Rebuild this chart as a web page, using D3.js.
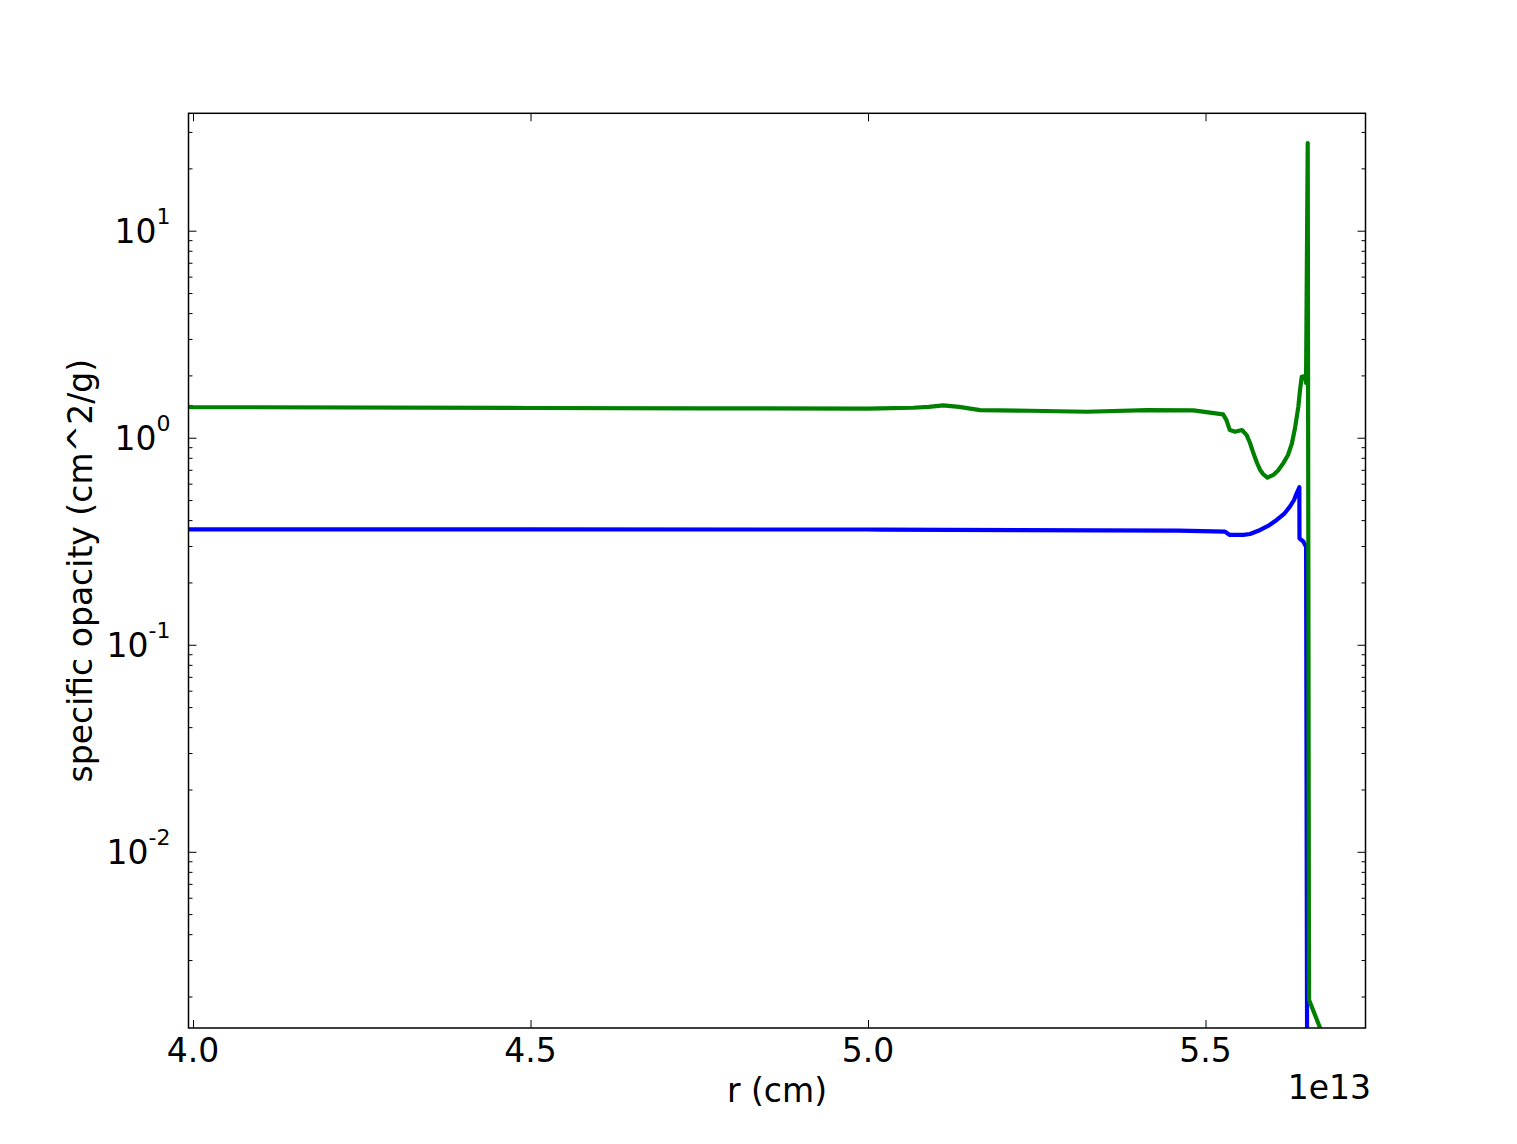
<!DOCTYPE html>
<html>
<head>
<meta charset="utf-8">
<script src="https://cdn.jsdelivr.net/npm/d3@7"></script>
<style>
	body { margin: 0; background: #fff; }
	text { font-family: "DejaVu Sans", sans-serif; fill: #000; }
</style>
</head>
<body>
<div class="chartDiv"></div>
<script>
// radius in units of 1e13 cm
var rBlue = [3.99, 4.0, 4.5, 5.0, 5.02, 5.46, 5.529, 5.536, 5.556, 5.5659, 5.581, 5.5926, 5.6055, 5.6163, 5.625, 5.6311, 5.635, 5.639, 5.6392, 5.645, 5.649, 5.6505, 5.651];
var opacityBlue = [0.3605, 0.3605, 0.3605, 0.3603, 0.3602, 0.3557, 0.3518, 0.3392, 0.3392, 0.3429, 0.3585, 0.3748, 0.4006, 0.4282, 0.4645, 0.5003, 0.5392, 0.5763, 0.3268, 0.3148, 0.2978, 0.001, 0.0001];

var rGreen = [3.99, 4.0, 4.5, 4.75, 5.0, 5.018, 5.067, 5.09, 5.111, 5.135, 5.166, 5.24, 5.324, 5.413, 5.482, 5.526, 5.531, 5.536, 5.544, 5.554, 5.561, 5.5659, 5.571, 5.5763, 5.581, 5.5852, 5.5916, 5.6004, 5.6074, 5.615, 5.6222, 5.628, 5.6326, 5.6375, 5.64, 5.6425, 5.6474, 5.6489, 5.6514, 5.6533, 5.6686, 5.70];
var opacityGreen = [1.41, 1.406, 1.392, 1.386, 1.383, 1.386, 1.396, 1.41, 1.434, 1.41, 1.360, 1.350, 1.335, 1.360, 1.356, 1.297, 1.217, 1.089, 1.069, 1.089, 1.030, 0.943, 0.841, 0.755, 0.698, 0.668, 0.641, 0.661, 0.6945, 0.752, 0.825, 0.940, 1.114, 1.411, 1.699, 1.970, 1.985, 1.837, 26.5, 0.00193, 0.00144, 0.00079];

var xTicks = [4.0, 4.5, 5.0, 5.5];
var yTicks = [1e-2, 1e-1, 1e0, 1e1];
var yExponents = ["-2", "-1", "0", "1"];

var margin = {top: 113.3, left: 188.5};
var width = 1177;
var height = 914.7;

var svg = d3.select(".chartDiv").append("svg")
	.attr("width", 1517)
	.attr("height", 1144);

var g = svg.append("g")
	.attr("transform", "translate(" + margin.left + "," + margin.top + ")");

var xScale = d3.scaleLinear().domain([3.9933, 5.737]).range([0, width]);
var yScale = d3.scaleLog().domain([0.001409, 36.9]).range([height, 0]);

g.append("clipPath").attr("id", "clip")
	.append("rect").attr("width", width).attr("height", height);

var line = d3.line()
	.x(function (d) { return xScale(d[0]); })
	.y(function (d) { return yScale(d[1]); });

var series = [
	{r: rBlue, k: opacityBlue, color: "#0000ff"},
	{r: rGreen, k: opacityGreen, color: "#008000"}
];

g.selectAll(".series")
	.data(series)
	.enter().append("path")
	.attr("class", "series")
	.attr("clip-path", "url(#clip)")
	.attr("fill", "none")
	.attr("stroke", function (d) { return d.color; })
	.attr("stroke-width", 4.2)
	.attr("stroke-linejoin", "round")
	.attr("d", function (d) { return line(d.r.map(function (r, i) { return [r, d.k[i]]; })); });

// ticks point inwards on all four sides
var minor = [];
for (var e = -3; e <= 1; e++) {
	for (var m = 2; m <= 9; m++) {
		var v = m * Math.pow(10, e);
		if (v > yScale.domain()[0] && v < yScale.domain()[1]) minor.push(v);
	}
}

g.append("g")
	.call(d3.axisBottom(xScale).tickValues(xTicks).tickSizeInner(-8).tickSizeOuter(0).tickFormat(""))
	.attr("transform", "translate(0," + height + ")");
g.append("g")
	.call(d3.axisTop(xScale).tickValues(xTicks).tickSizeInner(-8).tickSizeOuter(0).tickFormat(""));
g.append("g")
	.call(d3.axisLeft(yScale).tickValues(yTicks).tickSizeInner(-8).tickSizeOuter(0).tickFormat(""));
g.append("g")
	.call(d3.axisLeft(yScale).tickValues(minor).tickSizeInner(-4).tickSizeOuter(0).tickFormat(""));
g.append("g")
	.attr("transform", "translate(" + width + ",0)")
	.call(d3.axisRight(yScale).tickValues(yTicks).tickSizeInner(-8).tickSizeOuter(0).tickFormat(""));
g.append("g")
	.attr("transform", "translate(" + width + ",0)")
	.call(d3.axisRight(yScale).tickValues(minor).tickSizeInner(-4).tickSizeOuter(0).tickFormat(""));

g.selectAll(".domain").remove();
g.selectAll(".tick line").attr("stroke", "#000").attr("stroke-width", 1);

g.append("rect")
	.attr("width", width)
	.attr("height", height)
	.attr("fill", "none")
	.attr("stroke", "#000")
	.attr("stroke-width", 1.5);

// tick labels
g.selectAll(".xlabel")
	.data(xTicks)
	.enter().append("text")
	.attr("x", function (d) { return xScale(d); })
	.attr("y", height + 34)
	.attr("text-anchor", "middle")
	.style("font-size", "33px")
	.text(function (d) { return d.toFixed(1); });

var yl = g.selectAll(".ylabel")
	.data(yTicks)
	.enter().append("text")
	.attr("x", -18)
	.attr("y", function (d) { return yScale(d) + 12; })
	.attr("text-anchor", "end")
	.style("font-size", "33px");
yl.append("tspan").text("10");
yl.append("tspan")
	.attr("dy", -19)
	.style("font-size", "22px")
	.text(function (d, i) { return yExponents[i]; });

svg.append("text")
	.attr("x", 1371)
	.attr("y", 1099.3)
	.attr("text-anchor", "end")
	.style("font-size", "33px")
	.text("1e13");

svg.append("text")
	.attr("x", margin.left + width / 2)
	.attr("y", 1102)
	.attr("text-anchor", "middle")
	.style("font-size", "33px")
	.text("r (cm)");

svg.append("text")
	.attr("transform", "translate(92," + (margin.top + height / 2) + ") rotate(-90)")
	.attr("text-anchor", "middle")
	.style("font-size", "33px")
	.text("specific opacity (cm^2/g)");
</script>
</body>
</html>
